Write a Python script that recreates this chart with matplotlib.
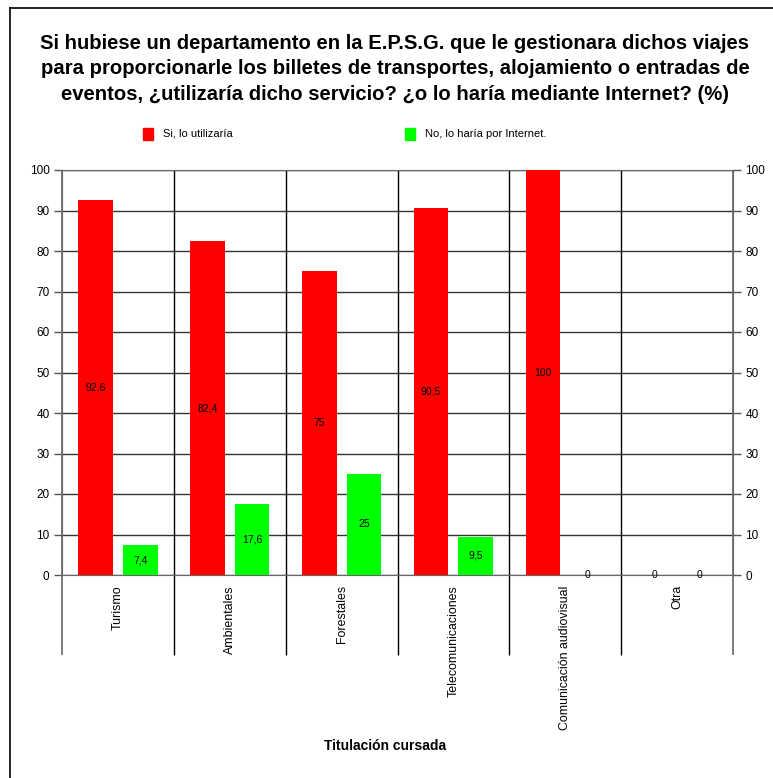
import numpy as np
import matplotlib.pyplot as plt
from matplotlib.patches import Rectangle

plt.rcParams['font.family'] = ['Liberation Sans', 'DejaVu Sans']

categories = ['Turismo', 'Ambientales', 'Forestales', 'Telecomunicaciones',
              'Comunicación audiovisual', 'Otra']
si_vals = [92.6, 82.4, 75, 90.5, 100, 0]
no_vals = [7.4, 17.6, 25, 9.5, 0, 0]
series = ['Si, lo utilizaría', 'No, lo haría por Internet.']
colors = ['#ff0000', '#00ff00']
title = ('Si hubiese un departamento en la E.P.S.G. que le gestionara dichos viajes\n'
         'para proporcionarle los billetes de transportes, alojamiento o entradas de\n'
         'eventos, ¿utilizaría dicho servicio? ¿o lo haría mediante Internet? (%)')

W, H = 773, 778
fig = plt.figure(figsize=(W / 100, H / 100), dpi=100)
ax = fig.add_axes([62 / W, 1 - 575 / H, (733 - 62) / W, (575 - 170) / H])

x = np.arange(len(categories))
bw = 0.31
for vals, off, col in [(si_vals, -0.2, colors[0]), (no_vals, 0.2, colors[1])]:
    ax.bar(x + off, vals, bw, color=col, zorder=3)
    for xi, v in zip(x + off, vals):
        lab = ('%g' % v).replace('.', ',')
        ax.text(xi, v / 2, lab, ha='center', va='center', fontsize=7.5,
                color='black', zorder=4)

ax.set_xlim(-0.5, len(categories) - 0.5)
ax.set_ylim(0, 100)
ax.set_yticks(np.arange(0, 101, 10))
ax.yaxis.grid(True, color='#333333', lw=1)
ax.set_axisbelow(True)
ax.tick_params(axis='y', which='both', left=True, right=True, labelleft=True,
               labelright=True, length=6, width=1, color='#555555',
               labelsize=8.5, pad=3)
for s in ['left', 'right', 'bottom', 'top']:
    ax.spines[s].set_color('#666666')
ax.set_xticks([])

# category separators extending below the plot
sep_x = np.arange(len(categories) + 1) - 0.5
ax.vlines(sep_x[1:-1], -0.1975, 1, transform=ax.get_xaxis_transform(),
          colors='black', lw=1, clip_on=False, zorder=2)
ax.vlines([sep_x[0], sep_x[-1]], -0.1975, 1, transform=ax.get_xaxis_transform(),
          colors='#666666', lw=1.2, clip_on=False, zorder=2)

for xi, c in zip(x, categories):
    ax.text(xi, -0.025, c, transform=ax.get_xaxis_transform(), rotation=90,
            ha='center', va='top', fontsize=8.9)

fig.text(395 / W, 1 - 69 / H, title, ha='center', va='center', fontsize=14.6,
         fontweight='bold', linespacing=1.42)
fig.text(385 / W, 1 - 746 / H, 'Titulación cursada', ha='center', va='center',
         fontsize=10, fontweight='bold')

# legend
for lx, name, col in [(143, series[0], colors[0]), (405, series[1], colors[1])]:
    fig.patches.append(Rectangle((lx / W, 1 - 140 / H), 10 / W, 12 / H,
                                 transform=fig.transFigure, color=col))
    fig.text((lx + 20) / W, 1 - 134 / H, name, ha='left', va='center', fontsize=8)

# outer frame (left and top only)
fig.add_artist(plt.Line2D([10 / W, 10 / W], [0, 1 - 8 / H], color='black', lw=1.2,
                          transform=fig.transFigure))
fig.add_artist(plt.Line2D([10 / W, 1], [1 - 8 / H, 1 - 8 / H], color='black',
                          lw=1.2, transform=fig.transFigure))

fig.savefig('out.png', dpi=100)
